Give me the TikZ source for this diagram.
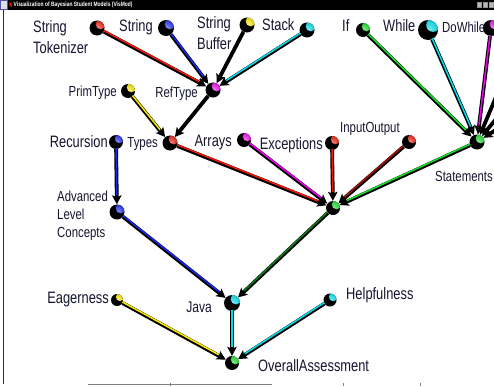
\documentclass[tikz,border=0pt]{standalone}
\usepackage{fontspec}
\setmainfont{Liberation Sans}[FakeStretch=0.78]
\usetikzlibrary{arrows.meta,calc}

\definecolor{lbl}{RGB}{22,22,48}
\definecolor{bgreen}{RGB}{20,225,40}
\definecolor{bcyan}{RGB}{0,225,240}
\definecolor{bmag}{RGB}{240,0,240}
\definecolor{byel}{RGB}{255,235,0}
\definecolor{bred}{RGB}{240,25,10}
\definecolor{bblue}{RGB}{25,40,240}

\tikzset{
  ball/.style 2 args={circle, inner sep=0pt, minimum size=#2pt, fill=black,
    path picture={
      \shade[inner color=#1!55!white, outer color=#1!85!black]
        ($(path picture bounding box.center)!0.5!(path picture bounding box.north east)$)
        circle[radius=0.34*#2pt];}},
  link/.style={draw=black, line width=3.8pt, -{Stealth[length=9pt,width=9.5pt,inset=2pt]}},
  stripe/.style={draw=#1, line width=1.5pt, shorten >=8pt, transform canvas={yshift=1pt}},
  big/.style={font=\fontsize{16.5}{21}\selectfont, text=lbl, inner sep=0pt, align=left},
  small/.style={font=\fontsize{14.6}{18}\selectfont, text=lbl, inner sep=0pt, align=left},
}

\begin{document}
\begin{tikzpicture}[x=1pt, y=-1pt]
\useasboundingbox (0,0) rectangle (494,386);
\clip (0,0) rectangle (494,386);
\fill[white] (0,0) rectangle (494,386);

% window chrome
\fill[black] (8,0) rectangle (494,9.5);
\draw[fill=gray!25, draw=blue!35!gray, line width=0.8pt] (0.5,0.5) rectangle (7,9);
\fill[bred] (9.3,3) -- (11.8,2.5) -- (11.2,4.8) -- (12.2,6.8) -- (9.8,6.2) -- cycle;
\node[anchor=west, text=white, font=\fontsize{6.3}{7}\selectfont\bfseries, inner sep=0pt] (title) at (13.5,4.9) {Visualization of Bayesian Student Models (VisMod)};
\foreach \bx in {477,483,489}{
  \draw[fill=gray!55, draw=gray!85] (\bx,2.5) rectangle ++(4.6,5);
}
\draw[gray!35!black, line width=1.2pt] (3.8,10) -- (3.8,384);
\draw[gray, line width=0.8pt] (88,384.6) -- (272,384.6);
\draw[gray, line width=0.8pt] (170,383) -- (170,386);
\draw[gray, line width=0.8pt] (343,383) -- (343,386);
\draw[gray, line width=0.8pt] (420,383) -- (420,386);

% variables of the network
\node[ball={bred}{15}]   (tok)   at (97,28) {};
\node[ball={bblue}{16}]  (str)   at (166,28) {};
\node[ball={byel}{15}]   (buf)   at (247,25) {};
\node[ball={bcyan}{15}]  (stack) at (307,30) {};
\node[ball={bgreen}{14}] (if)    at (363,30) {};
\node[ball={bcyan}{20}]  (while) at (428,30) {};
\node[ball={bmag}{16}]   (dowh)  at (491,28) {};
\node[ball={byel}{14}]   (prim)  at (128,91) {};
\node[ball={bmag}{15}]   (ref)   at (213,90) {};
\node[ball={bblue}{14}]  (rec)   at (116,142) {};
\node[ball={bred}{15}]   (types) at (170,143) {};
\node[ball={bmag}{14}]   (arr)   at (244,140) {};
\node[ball={bred}{14}]   (exc)   at (332,143) {};
\node[ball={bred}{14}]   (io)    at (409,142) {};
\node[ball={bgreen}{15}] (stm)   at (477,142) {};
\node[ball={bgreen}{14}] (core)  at (333,208) {};
\node[ball={bblue}{15}]  (adv)   at (117,212) {};
\node[ball={bcyan}{16}]  (java)  at (232,303) {};
\node[ball={byel}{12}]   (eag)   at (117,300) {};
\node[ball={bcyan}{13}]  (help)  at (330,300) {};
\node[ball={bgreen}{14}] (overall) at (232,363) {};

% parents beyond the right edge
\coordinate (xa) at (520,40);
\coordinate (xb) at (530,78);
\coordinate (xc) at (530,108);

% labels (multi-line labels are placed by their last baseline)
\node[big, anchor=base west]   (ltok)   at (33,53)  {String\\Tokenizer};
\node[big, anchor=base east]   (lstr)   at (153,31) {String};
\node[big, anchor=base west]   (lbuf)   at (197,49) {String\\Buffer};
\node[big, anchor=base west]   (lstack) at (262,30) {Stack};
\node[big, anchor=base west]   (lif)    at (342,31) {If};
\node[big, anchor=base west]   (lwhile) at (383,31) {While};
\node[small, anchor=base west] (ldowh)  at (442,32) {DoWhile};
\node[small, anchor=base east] (lprim)  at (117,96) {PrimType};
\node[small, anchor=base east] (lref)   at (198,97) {RefType};
\node[big, anchor=base east]   (lrec)   at (108,147) {Recursion};
\node[small, anchor=base east] (ltypes) at (158,147) {Types};
\node[big, anchor=base east]   (larr)   at (232,146) {Arrays};
\node[big, anchor=base east]   (lexc)   at (323,149) {Exceptions};
\node[small, anchor=base west] (lio)    at (340,132) {InputOutput};
\node[small, anchor=base east] (lstm)   at (493,181) {Statements};
\node[small, anchor=base west] (ladv)   at (57,237) {Advanced\\Level\\Concepts};
\node[big, anchor=base east]   (leag)   at (109,303) {Eagerness};
\node[small, font=\fontsize{15.5}{18}\selectfont, anchor=base east] (ljava) at (212,312) {Java};
\node[big, anchor=base west]   (lhelp)  at (346,299) {Helpfulness};
\node[big, anchor=base west]   (lover)  at (258,371) {OverallAssessment};

% connectors: black body with a coloured stripe
\draw[link] (tok) -- (ref);    \draw[stripe=bred]  (tok) -- (ref);
\draw[link] (str) -- (ref);    \draw[stripe=bblue] (str) -- (ref);
\draw[link] (buf) -- (ref);
\draw[link] (stack) -- (ref);  \draw[stripe=bcyan] (stack) -- (ref);
\draw[link] (prim) -- (types); \draw[stripe=byel]  (prim) -- (types);
\draw[link] (ref) -- (types);
\draw[link] (if) -- (stm);     \draw[stripe=bgreen] (if) -- (stm);
\draw[link] (while) -- (stm);  \draw[stripe=bcyan]  (while) -- (stm);
\draw[link] (dowh) -- (stm);   \draw[stripe=bmag]   (dowh) -- (stm);
\draw[link] (xa) -- (stm);
\draw[link] (xb) -- (stm);
\draw[link] (xc) -- (stm);
\draw[link] (types) -- (core); \draw[stripe=bred]  (types) -- (core);
\draw[link] (arr) -- (core);   \draw[stripe=bmag]  (arr) -- (core);
\draw[link] (exc) -- (core);   \draw[stripe=bred]  (exc) -- (core);
\draw[link] (io) -- (core);    \draw[stripe=bred!70!black] (io) -- (core);
\draw[link] (stm) -- (core);   \draw[stripe=bgreen] (stm) -- (core);
\draw[link] (rec) -- (adv);    \draw[stripe=bblue] (rec) -- (adv);
\draw[link] (adv) -- (java);   \draw[stripe=bblue] (adv) -- (java);
\draw[link] (core) -- (java);  \draw[stripe=bgreen!55!black] (core) -- (java);
\draw[link] (java) -- (overall); \draw[stripe=bcyan] (java) -- (overall);
\draw[link] (eag) -- (overall);  \draw[stripe=byel]  (eag) -- (overall);
\draw[link] (help) -- (overall); \draw[stripe=bcyan] (help) -- (overall);
\end{tikzpicture}
\end{document}
